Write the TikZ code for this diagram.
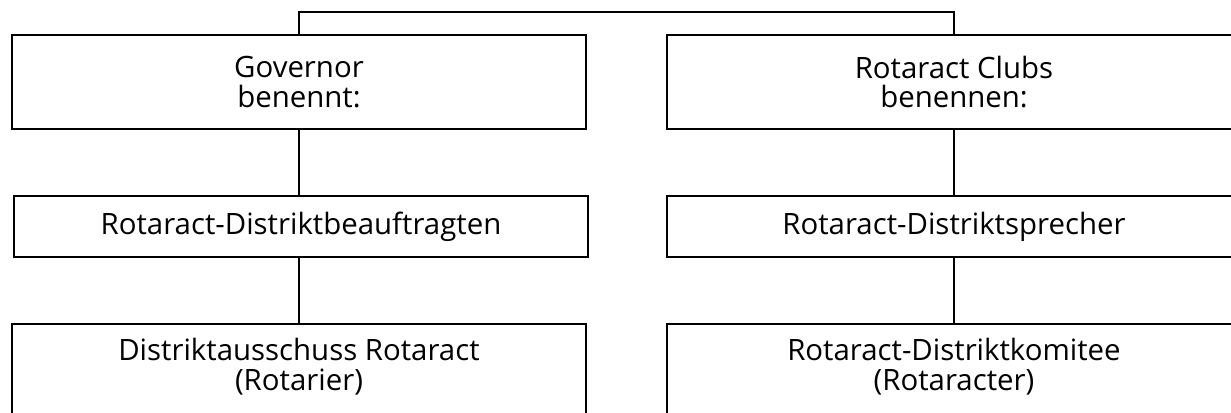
\documentclass[tikz,border=0pt]{standalone}
\usepackage{fontspec}
\setmainfont{Open Sans}
\begin{document}
\begin{tikzpicture}[x=1bp,y=1bp,
  box/.style={draw, line width=2.1bp, rectangle, minimum width=574bp, inner sep=0pt, align=center},
  conn/.style={line width=2.1bp},
  font=\fontsize{29.5}{30}\selectfont]
\useasboundingbox (0,0) rectangle (1231,412);
\node[box, minimum height=94bp] (gov) at (299,330) {Governor\\benennt:};
\node[box, minimum height=94bp] (clubs) at (954,330) {Rotaract Clubs\\benennen:};
\node[box, minimum height=61bp] (rdb) at (301,185.5) {\raisebox{-1bp}{Rotaract-Distriktbeauftragten}};
\node[box, minimum height=61bp] (rds) at (954,185.5) {\raisebox{-1bp}{Rotaract-Distriktsprecher}};
\node[box, minimum height=100bp, anchor=north] (das) at (299,89) {};
\node[box, minimum height=100bp, anchor=north] (rdk) at (954,89) {};
\node[anchor=north, align=center, inner sep=0pt] (dast) at ([yshift=-15bp]das.north) {Distriktausschuss Rotaract\\(Rotarier)};
\node[anchor=north, align=center, inner sep=0pt] (rdkt) at ([yshift=-15bp]rdk.north) {Rotaract-Distriktkomitee\\(Rotaracter)};
\draw[conn] (gov.north) -- ++(0,22) -| (clubs.north);
\draw[conn] (gov.south) -- (gov.south |- rdb.north);
\draw[conn] (gov.south |- rdb.south) -- (gov.south |- das.north);
\draw[conn] (clubs.south) -- (rds.north);
\draw[conn] (rds.south) -- (rdk.north);
\end{tikzpicture}
\end{document}
